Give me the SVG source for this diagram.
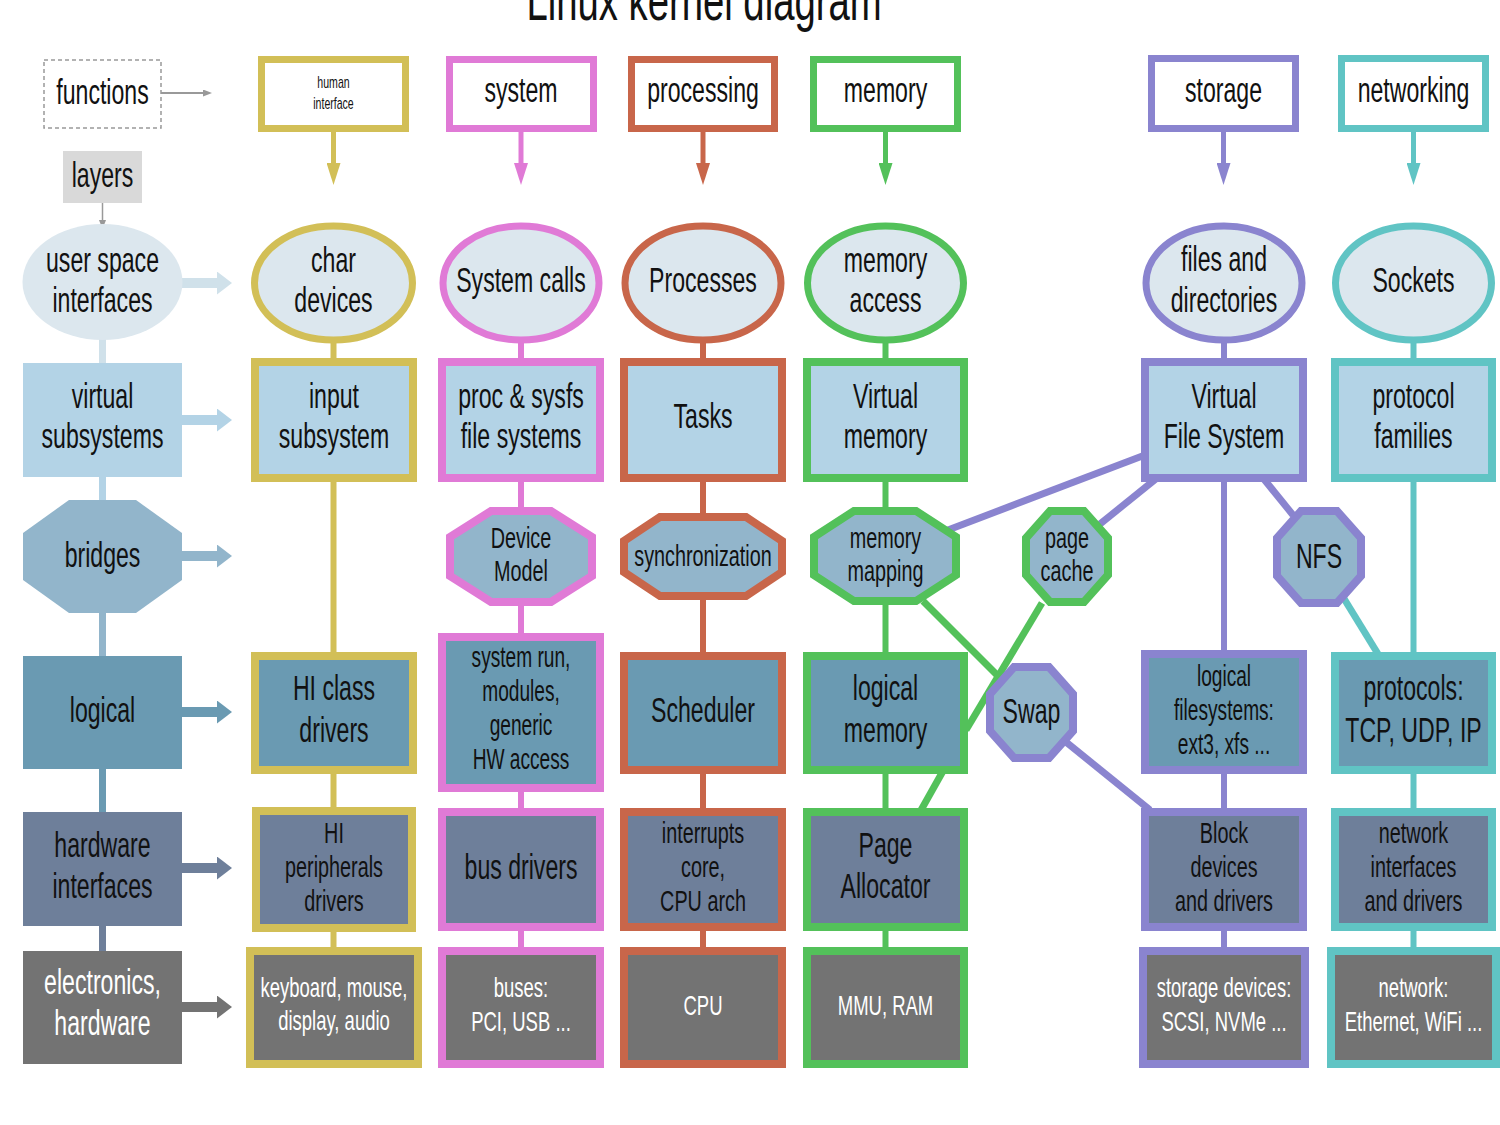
<svg xmlns="http://www.w3.org/2000/svg" width="1500" height="1125" viewBox="0 0 1500 1125">
<style>
.t{font-family:"Liberation Sans",Arial,sans-serif;text-anchor:middle;fill:#111}
.L{font-size:35px}.M{font-size:30px}.S{font-size:28px}.w{fill:#fff}
.hdr{fill:#fff;stroke-width:7}
.ell{fill:#dce7ee;stroke-width:7}
.bd{stroke-width:8}
.vb{fill:#b3d3e6}.oc{fill:#92b5cb}.lg{fill:#6a9ab2}.hw{fill:#6e7f9a}.el{fill:#737373}
.y{stroke:#d2bf57}.p{stroke:#e07ad6}.o{stroke:#c8664a}.g{stroke:#53c15a}.u{stroke:#8a84cf}.c{stroke:#60c4c4}
.col{stroke-width:6;fill:none}
.cross{stroke-width:7;fill:none}
.la{stroke-width:10;fill:none}
.ha{stroke-width:5;fill:none}
</style>
<defs>
<marker id="hy" markerUnits="userSpaceOnUse" markerWidth="22" markerHeight="14" refX="12" refY="7" orient="auto"><path d="M0,0L22,7L0,14z" fill="#d2bf57"/></marker>
<marker id="hp" markerUnits="userSpaceOnUse" markerWidth="22" markerHeight="14" refX="12" refY="7" orient="auto"><path d="M0,0L22,7L0,14z" fill="#e07ad6"/></marker>
<marker id="ho" markerUnits="userSpaceOnUse" markerWidth="22" markerHeight="14" refX="12" refY="7" orient="auto"><path d="M0,0L22,7L0,14z" fill="#c8664a"/></marker>
<marker id="hg" markerUnits="userSpaceOnUse" markerWidth="22" markerHeight="14" refX="12" refY="7" orient="auto"><path d="M0,0L22,7L0,14z" fill="#53c15a"/></marker>
<marker id="hu" markerUnits="userSpaceOnUse" markerWidth="22" markerHeight="14" refX="12" refY="7" orient="auto"><path d="M0,0L22,7L0,14z" fill="#8a84cf"/></marker>
<marker id="hc" markerUnits="userSpaceOnUse" markerWidth="22" markerHeight="14" refX="12" refY="7" orient="auto"><path d="M0,0L22,7L0,14z" fill="#60c4c4"/></marker>
<marker id="a1" markerUnits="userSpaceOnUse" markerWidth="15" markerHeight="23" refX="5" refY="11.5" orient="auto"><path d="M0,0L15,11.5L0,23z" fill="#d0e1ea"/></marker>
<marker id="a2" markerUnits="userSpaceOnUse" markerWidth="15" markerHeight="23" refX="5" refY="11.5" orient="auto"><path d="M0,0L15,11.5L0,23z" fill="#b3d3e6"/></marker>
<marker id="a3" markerUnits="userSpaceOnUse" markerWidth="15" markerHeight="23" refX="5" refY="11.5" orient="auto"><path d="M0,0L15,11.5L0,23z" fill="#92b5cb"/></marker>
<marker id="a4" markerUnits="userSpaceOnUse" markerWidth="15" markerHeight="23" refX="5" refY="11.5" orient="auto"><path d="M0,0L15,11.5L0,23z" fill="#6a9ab2"/></marker>
<marker id="a5" markerUnits="userSpaceOnUse" markerWidth="15" markerHeight="23" refX="5" refY="11.5" orient="auto"><path d="M0,0L15,11.5L0,23z" fill="#6e7f9a"/></marker>
<marker id="a6" markerUnits="userSpaceOnUse" markerWidth="15" markerHeight="23" refX="5" refY="11.5" orient="auto"><path d="M0,0L15,11.5L0,23z" fill="#737373"/></marker>
<marker id="gs" markerUnits="userSpaceOnUse" markerWidth="9" markerHeight="7" refX="2" refY="3.5" orient="auto"><path d="M0,0L9,3.5L0,7z" fill="#999"/></marker>
</defs>
<rect width="1500" height="1125" fill="#fff"/>
<text class="t" font-size="58" transform="matrix(.66 0 0 1 704 0)"><tspan x="0" y="20">Linux kernel diagram</tspan></text>

<g id="connectors">
<line x1="161" y1="93" x2="205" y2="93" stroke="#999" stroke-width="2" marker-end="url(#gs)"/>
<line x1="102.5" y1="203" x2="102.5" y2="222" stroke="#999" stroke-width="1.5" marker-end="url(#gs)"/>
<line x1="102.5" y1="320" x2="102.5" y2="380" stroke="#d0e1ea" stroke-width="7"/>
<line x1="102.5" y1="460" x2="102.5" y2="520" stroke="#b3d3e6" stroke-width="7"/>
<line x1="102.5" y1="600" x2="102.5" y2="670" stroke="#92b5cb" stroke-width="7"/>
<line x1="102.5" y1="760" x2="102.5" y2="820" stroke="#6a9ab2" stroke-width="7"/>
<line x1="102.5" y1="920" x2="102.5" y2="960" stroke="#6e7f9a" stroke-width="7"/>
<line class="la" x1="182" y1="283" x2="222" y2="283" stroke="#d0e1ea" marker-end="url(#a1)"/>
<line class="la" x1="182" y1="420" x2="222" y2="420" stroke="#b3d3e6" marker-end="url(#a2)"/>
<line class="la" x1="182" y1="556" x2="222" y2="556" stroke="#92b5cb" marker-end="url(#a3)"/>
<line class="la" x1="182" y1="712" x2="222" y2="712" stroke="#6a9ab2" marker-end="url(#a4)"/>
<line class="la" x1="182" y1="868" x2="222" y2="868" stroke="#6e7f9a" marker-end="url(#a5)"/>
<line class="la" x1="182" y1="1007" x2="222" y2="1007" stroke="#737373" marker-end="url(#a6)"/>
<line class="ha y" x1="333.5" y1="132" x2="333.5" y2="175" marker-end="url(#hy)"/>
<line class="ha p" x1="521" y1="132" x2="521" y2="175" marker-end="url(#hp)"/>
<line class="ha o" x1="703" y1="132" x2="703" y2="175" marker-end="url(#ho)"/>
<line class="ha g" x1="885.5" y1="132" x2="885.5" y2="175" marker-end="url(#hg)"/>
<line class="ha u" x1="1223.5" y1="132" x2="1223.5" y2="175" marker-end="url(#hu)"/>
<line class="ha c" x1="1413.5" y1="132" x2="1413.5" y2="175" marker-end="url(#hc)"/>
<line class="col y" x1="333.5" y1="300" x2="333.5" y2="1000"/>
<line class="col p" x1="521" y1="300" x2="521" y2="1000"/>
<line class="col o" x1="703" y1="300" x2="703" y2="1000"/>
<line class="col g" x1="885.5" y1="300" x2="885.5" y2="1000"/>
<line class="col u" x1="1224" y1="300" x2="1224" y2="1000"/>
<line class="col c" x1="1413.5" y1="300" x2="1413.5" y2="1000"/>
<line class="cross u" x1="1145" y1="455" x2="948" y2="530"/>
<line class="cross u" x1="1157" y1="478" x2="1100" y2="524"/>
<line class="cross u" x1="1263" y1="478" x2="1293" y2="515"/>
<line class="cross c" x1="1343" y1="597" x2="1378" y2="654"/>
<line class="cross g" x1="923" y1="601" x2="998" y2="676"/>
<line class="cross g" x1="1042" y1="603" x2="966" y2="730"/>
<line class="cross g" x1="943" y1="771" x2="920" y2="812"/>
<line class="cross u" x1="1066" y1="742" x2="1150" y2="810"/>
</g>

<g id="functions"><rect x="44" y="60" width="117" height="68" fill="#fff" stroke="#999" stroke-width="1.5" stroke-dasharray="4 3"/>
<text class="t L" transform="matrix(.66 0 0 1 102.5 0)"><tspan x="0" y="104">functions</tspan></text></g>
<g id="layers"><rect x="63" y="151" width="79" height="52" fill="#d9d9d9"/>
<text class="t L" transform="matrix(.66 0 0 1 102.5 0)"><tspan x="0" y="187">layers</tspan></text></g>
<g id="user-space"><ellipse cx="102.5" cy="282" rx="80" ry="58" fill="#dce7ee"/>
<text class="t L" transform="matrix(.66 0 0 1 102.5 0)"><tspan x="0" y="272">user space</tspan><tspan x="0" y="312">interfaces</tspan></text></g>
<g id="virtual"><rect class="vb" x="23" y="363" width="159" height="114"/>
<text class="t L" transform="matrix(.66 0 0 1 102.5 0)"><tspan x="0" y="408">virtual</tspan><tspan x="0" y="448">subsystems</tspan></text></g>
<g id="bridges"><polygon class="oc" points="69,500 136,500 182,533 182,580 136,613 69,613 23,580 23,533"/>
<text class="t L" transform="matrix(.66 0 0 1 102.5 0)"><tspan x="0" y="567">bridges</tspan></text></g>
<g id="logical"><rect class="lg" x="23" y="656" width="159" height="113"/>
<text class="t L" transform="matrix(.66 0 0 1 102.5 0)"><tspan x="0" y="722">logical</tspan></text></g>
<g id="hw-interfaces"><rect class="hw" x="23" y="812" width="159" height="114"/>
<text class="t L" transform="matrix(.66 0 0 1 102.5 0)"><tspan x="0" y="857">hardware</tspan><tspan x="0" y="898">interfaces</tspan></text></g>
<g id="electronics"><rect class="el" x="23" y="951" width="159" height="113"/>
<text class="t L w" transform="matrix(.66 0 0 1 102.5 0)"><tspan x="0" y="994">electronics,</tspan><tspan x="0" y="1035">hardware</tspan></text></g>

<g id="h-human"><rect class="hdr y" x="261.5" y="59.5" width="144" height="69"/>
<text class="t" font-size="16" transform="matrix(.66 0 0 1 333.5 0)"><tspan x="0" y="88">human</tspan><tspan x="0" y="109">interface</tspan></text></g>
<g id="h-system"><rect class="hdr p" x="449.5" y="59.5" width="144" height="69"/>
<text class="t L" transform="matrix(.66 0 0 1 521 0)"><tspan x="0" y="102">system</tspan></text></g>
<g id="h-processing"><rect class="hdr o" x="631.5" y="59.5" width="143" height="69"/>
<text class="t L" transform="matrix(.66 0 0 1 703 0)"><tspan x="0" y="102">processing</tspan></text></g>
<g id="h-memory"><rect class="hdr g" x="813.5" y="59.5" width="144" height="69"/>
<text class="t L" transform="matrix(.66 0 0 1 885.5 0)"><tspan x="0" y="102">memory</tspan></text></g>
<g id="h-storage"><rect class="hdr u" x="1151.5" y="58.5" width="144" height="70"/>
<text class="t L" transform="matrix(.66 0 0 1 1223.5 0)"><tspan x="0" y="102">storage</tspan></text></g>
<g id="h-networking"><rect class="hdr c" x="1341.5" y="58.5" width="144" height="70"/>
<text class="t L" transform="matrix(.66 0 0 1 1413.5 0)"><tspan x="0" y="102">networking</tspan></text></g>

<g id="char-devices"><ellipse class="ell y" cx="333.5" cy="283" rx="79" ry="57"/>
<text class="t L" transform="matrix(.66 0 0 1 333.5 0)"><tspan x="0" y="272">char</tspan><tspan x="0" y="312">devices</tspan></text></g>
<g id="system-calls"><ellipse class="ell p" cx="521" cy="283" rx="78" ry="57"/>
<text class="t L" transform="matrix(.66 0 0 1 521 0)"><tspan x="0" y="292">System calls</tspan></text></g>
<g id="processes"><ellipse class="ell o" cx="703" cy="283" rx="78" ry="57"/>
<text class="t L" transform="matrix(.66 0 0 1 703 0)"><tspan x="0" y="292">Processes</tspan></text></g>
<g id="memory-access"><ellipse class="ell g" cx="885.5" cy="283" rx="78" ry="57"/>
<text class="t L" transform="matrix(.66 0 0 1 885.5 0)"><tspan x="0" y="272">memory</tspan><tspan x="0" y="312">access</tspan></text></g>
<g id="files-dirs"><ellipse class="ell u" cx="1224" cy="283" rx="78" ry="57"/>
<text class="t L" transform="matrix(.66 0 0 1 1224 0)"><tspan x="0" y="271">files and</tspan><tspan x="0" y="312">directories</tspan></text></g>
<g id="sockets"><ellipse class="ell c" cx="1413.5" cy="283" rx="78" ry="57"/>
<text class="t L" transform="matrix(.66 0 0 1 1413.5 0)"><tspan x="0" y="292">Sockets</tspan></text></g>

<g id="input-subsystem"><rect class="vb bd y" x="255" y="362" width="158" height="116"/>
<text class="t L" transform="matrix(.66 0 0 1 334 0)"><tspan x="0" y="408">input</tspan><tspan x="0" y="448">subsystem</tspan></text></g>
<g id="proc-sysfs"><rect class="vb bd p" x="442" y="362" width="158" height="116"/>
<text class="t L" transform="matrix(.66 0 0 1 521 0)"><tspan x="0" y="408">proc &amp; sysfs</tspan><tspan x="0" y="448">file systems</tspan></text></g>
<g id="tasks"><rect class="vb bd o" x="624" y="362" width="158" height="116"/>
<text class="t L" transform="matrix(.66 0 0 1 703 0)"><tspan x="0" y="428">Tasks</tspan></text></g>
<g id="virtual-memory"><rect class="vb bd g" x="807" y="362" width="157" height="116"/>
<text class="t L" transform="matrix(.66 0 0 1 885.5 0)"><tspan x="0" y="408">Virtual</tspan><tspan x="0" y="448">memory</tspan></text></g>
<g id="vfs"><rect class="vb bd u" x="1145" y="362" width="158" height="116"/>
<text class="t L" transform="matrix(.66 0 0 1 1224 0)"><tspan x="0" y="408">Virtual</tspan><tspan x="0" y="448">File System</tspan></text></g>
<g id="protocol-families"><rect class="vb bd c" x="1335" y="362" width="157" height="116"/>
<text class="t L" transform="matrix(.66 0 0 1 1413.5 0)"><tspan x="0" y="408">protocol</tspan><tspan x="0" y="448">families</tspan></text></g>

<g id="device-model"><polygon class="oc bd p" stroke-width="7" points="491,511 551,511 592,537 592,576 551,602 491,602 450,576 450,537"/>
<text class="t M" transform="matrix(.66 0 0 1 521 0)"><tspan x="0" y="548">Device</tspan><tspan x="0" y="581">Model</tspan></text></g>
<g id="synchronization"><polygon class="oc bd o" points="660,517 746,517 782,541 782,572 746,596 660,596 624,572 624,541"/>
<text class="t M" transform="matrix(.66 0 0 1 703 0)"><tspan x="0" y="566">synchronization</tspan></text></g>
<g id="memory-mapping"><polygon class="oc bd g" points="854,511 916,511 956,537 956,575 916,601 854,601 814,575 814,537"/>
<text class="t M" transform="matrix(.66 0 0 1 885.5 0)"><tspan x="0" y="548">memory</tspan><tspan x="0" y="581">mapping</tspan></text></g>
<g id="page-cache"><polygon class="oc bd g" points="1050,511 1084,511 1108,538 1108,575 1084,602 1050,602 1026,575 1026,538"/>
<text class="t M" transform="matrix(.66 0 0 1 1067 0)"><tspan x="0" y="548">page</tspan><tspan x="0" y="581">cache</tspan></text></g>
<g id="nfs"><polygon class="oc bd u" points="1301,511 1337,511 1361,538 1361,576 1337,603 1301,603 1277,576 1277,538"/>
<text class="t L" transform="matrix(.66 0 0 1 1319 0)"><tspan x="0" y="568">NFS</tspan></text></g>
<g id="swap"><polygon class="oc bd u" points="1014,667 1049,667 1073,694 1073,731 1049,758 1014,758 990,731 990,694"/>
<text class="t L" transform="matrix(.66 0 0 1 1031.5 0)"><tspan x="0" y="723">Swap</tspan></text></g>

<g id="hi-class"><rect class="lg bd y" x="255" y="656" width="158" height="114"/>
<text class="t L" transform="matrix(.66 0 0 1 334 0)"><tspan x="0" y="700">HI class</tspan><tspan x="0" y="742">drivers</tspan></text></g>
<g id="system-run"><rect class="lg bd p" x="442" y="637" width="158" height="151"/>
<text class="t" font-size="29" transform="matrix(.66 0 0 1 521 0)"><tspan x="0" y="667">system run,</tspan><tspan x="0" y="701">modules,</tspan><tspan x="0" y="735">generic</tspan><tspan x="0" y="769">HW access</tspan></text></g>
<g id="scheduler"><rect class="lg bd o" x="624" y="656" width="158" height="114"/>
<text class="t L" transform="matrix(.66 0 0 1 703 0)"><tspan x="0" y="722">Scheduler</tspan></text></g>
<g id="logical-memory"><rect class="lg bd g" x="807" y="656" width="157" height="114"/>
<text class="t L" transform="matrix(.66 0 0 1 885.5 0)"><tspan x="0" y="700">logical</tspan><tspan x="0" y="742">memory</tspan></text></g>
<g id="logical-fs"><rect class="lg bd u" x="1145" y="654" width="158" height="116"/>
<text class="t" font-size="29" transform="matrix(.66 0 0 1 1224 0)"><tspan x="0" y="686">logical</tspan><tspan x="0" y="720">filesystems:</tspan><tspan x="0" y="754">ext3, xfs ...</tspan></text></g>
<g id="protocols"><rect class="lg bd c" x="1335" y="656" width="157" height="114"/>
<text class="t L" transform="matrix(.66 0 0 1 1413.5 0)"><tspan x="0" y="700">protocols:</tspan><tspan x="0" y="742">TCP, UDP, IP</tspan></text></g>

<g id="hi-peripherals"><rect class="hw bd y" x="256" y="811" width="156" height="117"/>
<text class="t M" transform="matrix(.66 0 0 1 334 0)"><tspan x="0" y="843">HI</tspan><tspan x="0" y="877">peripherals</tspan><tspan x="0" y="911">drivers</tspan></text></g>
<g id="bus-drivers"><rect class="hw bd p" x="442" y="812" width="158" height="115"/>
<text class="t L" transform="matrix(.66 0 0 1 521 0)"><tspan x="0" y="879">bus drivers</tspan></text></g>
<g id="interrupts"><rect class="hw bd o" x="624" y="812" width="158" height="115"/>
<text class="t M" transform="matrix(.66 0 0 1 703 0)"><tspan x="0" y="843">interrupts</tspan><tspan x="0" y="877">core,</tspan><tspan x="0" y="911">CPU arch</tspan></text></g>
<g id="page-allocator"><rect class="hw bd g" x="807" y="812" width="157" height="115"/>
<text class="t L" transform="matrix(.66 0 0 1 885.5 0)"><tspan x="0" y="857">Page</tspan><tspan x="0" y="898">Allocator</tspan></text></g>
<g id="block-devices"><rect class="hw bd u" x="1145" y="812" width="158" height="115"/>
<text class="t M" transform="matrix(.66 0 0 1 1224 0)"><tspan x="0" y="843">Block</tspan><tspan x="0" y="877">devices</tspan><tspan x="0" y="911">and drivers</tspan></text></g>
<g id="network-interfaces"><rect class="hw bd c" x="1335" y="812" width="157" height="115"/>
<text class="t M" transform="matrix(.66 0 0 1 1413.5 0)"><tspan x="0" y="843">network</tspan><tspan x="0" y="877">interfaces</tspan><tspan x="0" y="911">and drivers</tspan></text></g>

<g id="keyboard"><rect class="el bd y" x="250" y="951" width="168" height="113"/>
<text class="t S w" transform="matrix(.66 0 0 1 334 0)"><tspan x="0" y="997">keyboard, mouse,</tspan><tspan x="0" y="1030">display, audio</tspan></text></g>
<g id="buses"><rect class="el bd p" x="442" y="951" width="158" height="113"/>
<text class="t S w" transform="matrix(.66 0 0 1 521 0)"><tspan x="0" y="997">buses:</tspan><tspan x="0" y="1031">PCI, USB ...</tspan></text></g>
<g id="cpu"><rect class="el bd o" x="624" y="951" width="158" height="113"/>
<text class="t S w" transform="matrix(.66 0 0 1 703 0)"><tspan x="0" y="1015">CPU</tspan></text></g>
<g id="mmu-ram"><rect class="el bd g" x="807" y="951" width="157" height="113"/>
<text class="t S w" transform="matrix(.66 0 0 1 885.5 0)"><tspan x="0" y="1015">MMU, RAM</tspan></text></g>
<g id="storage-devices"><rect class="el bd u" x="1143" y="951" width="162" height="113"/>
<text class="t S w" transform="matrix(.66 0 0 1 1224 0)"><tspan x="0" y="997">storage devices:</tspan><tspan x="0" y="1031">SCSI, NVMe ...</tspan></text></g>
<g id="network-hw"><rect class="el bd c" x="1331" y="951" width="165" height="113"/>
<text class="t S w" transform="matrix(.66 0 0 1 1413.5 0)"><tspan x="0" y="997">network:</tspan><tspan x="0" y="1031">Ethernet, WiFi ...</tspan></text></g>
</svg>
